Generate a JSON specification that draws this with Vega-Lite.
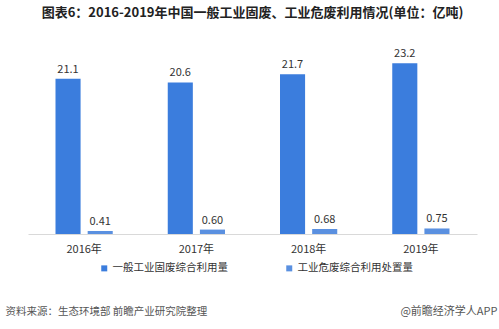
{
  "$schema": "https://vega.github.io/schema/vega-lite/v6.json",
  "autosize": {"type": "none"},
  "padding": {"left": 28, "top": 50, "right": 22, "bottom": 95},
  "width": 449,
  "height": 184,
  "background": "white",
  "config": {
    "font": "Noto Sans CJK SC",
    "view": {"stroke": null}
  },
  "title": {
    "text": "图表6：2016-2019年中国一般工业固废、工业危废利用情况(单位：亿吨)",
    "fontSize": 13,
    "fontWeight": "bold",
    "color": "#222222",
    "anchor": "middle",
    "offset": 28
  },
  "data": {
    "values": [
      {"year": "2016年", "series": "一般工业固废综合利用量", "value": 21.1, "label": "21.1"},
      {"year": "2016年", "series": "工业危废综合利用处置量", "value": 0.41, "label": "0.41"},
      {"year": "2017年", "series": "一般工业固废综合利用量", "value": 20.6, "label": "20.6"},
      {"year": "2017年", "series": "工业危废综合利用处置量", "value": 0.60, "label": "0.60"},
      {"year": "2018年", "series": "一般工业固废综合利用量", "value": 21.7, "label": "21.7"},
      {"year": "2018年", "series": "工业危废综合利用处置量", "value": 0.68, "label": "0.68"},
      {"year": "2019年", "series": "一般工业固废综合利用量", "value": 23.2, "label": "23.2"},
      {"year": "2019年", "series": "工业危废综合利用处置量", "value": 0.75, "label": "0.75"}
    ]
  },
  "encoding": {
    "x": {
      "field": "year",
      "type": "nominal",
      "scale": {"paddingInner": 0.49, "paddingOuter": 0.245},
      "axis": {
        "labelAngle": 0,
        "labelFontSize": 11,
        "labelColor": "#333333",
        "labelPadding": 9,
        "ticks": false,
        "domainColor": "#d9d9d9",
        "title": "资料来源：生态环境部 前瞻产业研究院整理",
        "titleAnchor": "start",
        "titleAlign": "left",
        "titleX": -23,
        "titleY": 77,
        "titleBaseline": "middle",
        "titleFontSize": 10.5,
        "titleFontWeight": "normal",
        "titleColor": "#555555"
      }
    },
    "xOffset": {
      "field": "series",
      "type": "nominal",
      "sort": ["一般工业固废综合利用量", "工业危废综合利用处置量"],
      "scale": {"paddingInner": 0.22, "paddingOuter": 0}
    },
    "y": {
      "field": "value",
      "type": "quantitative",
      "scale": {"domain": [0, 25]},
      "axis": {
        "orient": "right",
        "labels": false,
        "ticks": false,
        "domain": false,
        "grid": false,
        "title": "@前瞻经济学人APP",
        "titleAngle": 0,
        "titleAlign": "right",
        "titleBaseline": "middle",
        "titleX": 20,
        "titleY": 261,
        "titleFontSize": 11,
        "titleFontWeight": "normal",
        "titleColor": "#555555"
      }
    }
  },
  "layer": [
    {
      "mark": {"type": "bar"},
      "encoding": {
        "color": {
          "field": "series",
          "type": "nominal",
          "sort": ["一般工业固废综合利用量", "工业危废综合利用处置量"],
          "scale": {"range": ["#3b7ddd", "#5a90e0"]},
          "legend": {
            "orient": "none",
            "legendX": 71,
            "legendY": 213,
            "direction": "horizontal",
            "title": null,
            "symbolType": "square",
            "symbolSize": 36,
            "symbolStrokeWidth": 0,
            "labelFontSize": 10.5,
            "labelColor": "#333333",
            "columnPadding": 56,
            "labelOffset": 3
          }
        }
      }
    },
    {
      "mark": {"type": "text", "dy": -9, "fontSize": 11, "color": "#333333"},
      "encoding": {
        "text": {"field": "label"}
      }
    }
  ]
}
